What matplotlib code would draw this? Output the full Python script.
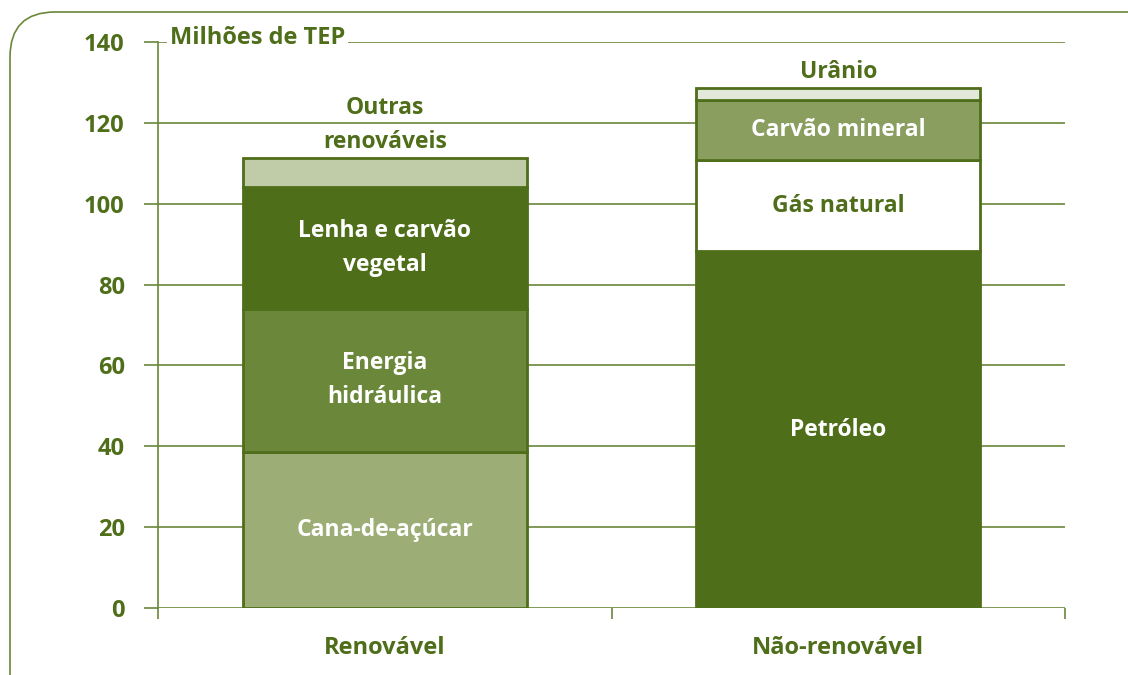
import matplotlib
matplotlib.use("Agg")
import matplotlib.pyplot as plt
from matplotlib.patches import FancyBboxPatch

categories = ["Renovável", "Não-renovável"]
renew_labels = ["Cana-de-açúcar", "Energia\nhidráulica", "Lenha e carvão\nvegetal", "Outras\nrenováveis"]
renew_values = [38.6, 35.4, 30.1, 7.2]
nonrenew_labels = ["Petróleo", "Gás natural", "Carvão mineral", "Urânio"]
nonrenew_values = [88.3, 22.5, 14.8, 3.0]
yticks = [0, 20, 40, 60, 80, 100, 120, 140]

DARK = "#4f6e1a"
renew_colors = ["#9cad76", "#6b873a", "#4f6e1a", "#c0cca8"]
nonrenew_colors = ["#4f6e1a", "#ffffff", "#8a9e60", "#e3e9da"]
renew_inside = [True, True, True, False]
nonrenew_inside = [True, True, True, False]

plt.rcParams['font.family'] = ['Open Sans', 'DejaVu Sans']
fig = plt.figure(figsize=(11.28, 6.75), dpi=100)
border = FancyBboxPatch((10/1128, -0.1), 1.2, 1.1 - 12/675,
                        boxstyle="round,pad=0,rounding_size=0.04",
                        transform=fig.transFigure, fill=False,
                        edgecolor="#6b873a", linewidth=1.2, mutation_aspect=1128/675)
fig.patches.append(border)

ax = fig.add_axes([158/1128, 1 - 608/675, 907/1128, 566/675])
ax.set_xlim(-0.5, 1.5)
ax.set_ylim(0, 140)
for s in ["top", "right", "bottom"]:
    ax.spines[s].set_visible(False)
ax.spines["left"].set_color("#6b873a")
ax.spines["left"].set_linewidth(1.2)
ax.set_yticks(yticks)
ax.set_yticklabels([str(v) for v in yticks], fontsize=17, fontweight="bold", color=DARK)
ax.tick_params(axis="y", length=10, width=1.2, color="#6b873a", pad=14)
ax.set_xticks([-0.5, 0.5, 1.5], minor=False)
ax.set_xticklabels(["", "", ""])
ax.tick_params(axis="x", length=8, width=1.2, color="#6b873a", direction="out")
for v in yticks:
    ax.axhline(v, color="#6b873a", linewidth=1.2, zorder=0)

bw = 0.626

def stack(xpos, labels, values, colors, inside):
    bottom = 0
    for lab, val, col, ins in zip(labels, values, colors, inside):
        ax.bar(xpos, val, bottom=bottom, width=bw, color=col, edgecolor=DARK,
               linewidth=2, zorder=2)
        if ins:
            tc = DARK if col == "#ffffff" else "white"
            ax.text(xpos, bottom + val / 2, lab, ha="center", va="center",
                    fontsize=16.5, fontweight="bold", color=tc, linespacing=1.55, zorder=3)
        else:
            ax.text(xpos, bottom + val + 1.0, lab, ha="center", va="bottom",
                    fontsize=16.5, fontweight="bold", color=DARK, linespacing=1.55, zorder=3)
        bottom += val

stack(0, renew_labels, renew_values, renew_colors, renew_inside)
stack(1, nonrenew_labels, nonrenew_values, nonrenew_colors, nonrenew_inside)

for i, c in enumerate(categories):
    ax.text(i, -10, c, ha="center", va="center", fontsize=17, fontweight="bold",
            color=DARK, clip_on=False)

ax.text(0.013, 140.9, "Milhões de TEP", ha="left", va="center", fontsize=17,
        fontweight="bold", color=DARK, zorder=5, transform=ax.get_yaxis_transform(),
        bbox=dict(facecolor="white", edgecolor="none", pad=2))

fig.savefig("out.png", dpi=100)
